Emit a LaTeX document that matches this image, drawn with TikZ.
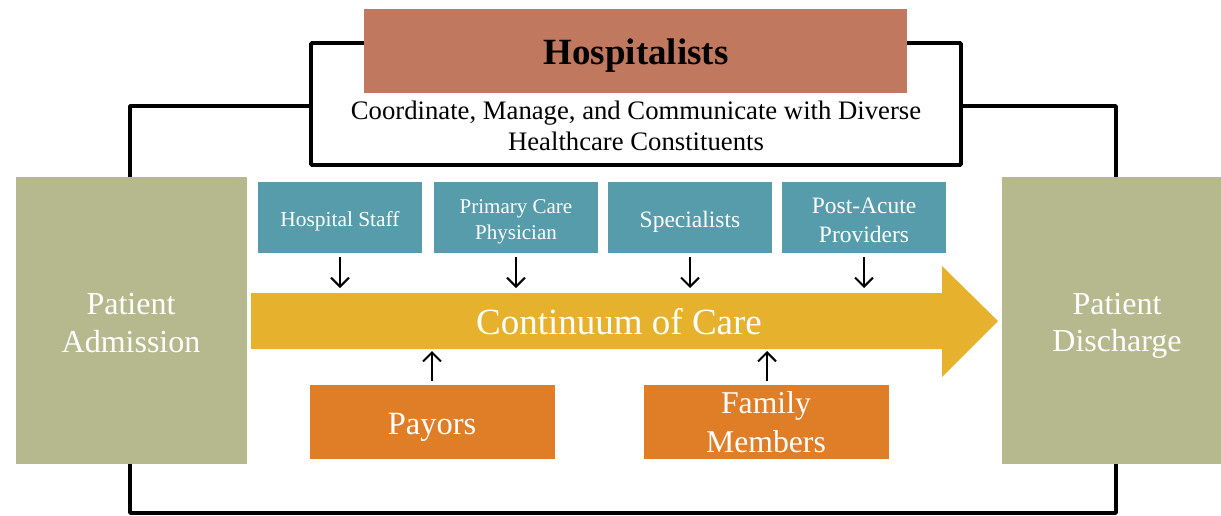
\documentclass[tikz,border=0pt]{standalone}
\usepackage{fontspec}
\setmainfont{LiberationSerif}[Extension=.ttf, UprightFont=*-Regular, BoldFont=*-Bold, ItalicFont=*-Italic, BoldItalicFont=*-BoldItalic]
\usetikzlibrary{arrows.meta}
\definecolor{hosp}{HTML}{C0785F}
\definecolor{teal}{HTML}{579CAA}
\definecolor{tan}{HTML}{B6B98E}
\definecolor{gold}{HTML}{E6B22E}
\definecolor{orng}{HTML}{E07D27}
\tikzset{
  box/.style={anchor=north west, inner sep=0pt, outer sep=0pt},
  lbl/.style={anchor=base, inner sep=0pt, text=white},
  conn/.style={line width=3.6pt, line join=round},
  arr/.style={-{Straight Barb[length=9pt,width=18pt,line width=2pt]}, line width=2pt},
}
\begin{document}
\begin{tikzpicture}[x=1pt,y=-1pt]
\useasboundingbox (0,0) rectangle (1221,515);
% connector frame
\node[box, draw=black, line width=3.6pt, rounded corners=1pt, minimum width=650pt, minimum height=122pt] (coord) at (311,43) {};
\begin{scope}[font=\fontsize{26.7}{32}\selectfont]
\node[lbl, text=black] (c1) at (636,119) {Coordinate, Manage, and Communicate with Diverse};
\node[lbl, text=black] (c2) at (636,150) {Healthcare Constituents};
\end{scope}
\node[box, fill=hosp, minimum width=543pt, minimum height=84pt] (hosp) at (364,9) {};
\node[lbl, font=\fontsize{37}{40}\bfseries\selectfont, text=black] (hosptxt) at (636,64) {Hospitalists};
% side boxes
\node[box, fill=tan, minimum width=231pt, minimum height=287pt] (adm) at (16,177) {};
\node[box, fill=tan, minimum width=219pt, minimum height=287pt] (dis) at (1002,177) {};
\begin{scope}[font=\fontsize{32}{39}\selectfont]
\node[lbl] (a1) at (131,314) {Patient};
\node[lbl] (a2) at (131,352) {Admission};
\node[lbl] (d1) at (1117,314) {Patient};
\node[lbl] (d2) at (1117,351) {Discharge};
\end{scope}
\coordinate (lt) at (130,106);
\coordinate (rt) at (1116,106);
\coordinate (lb) at (130,513);
\coordinate (rb) at (1116,513);
\draw[conn] (coord.west |- lt) -- (lt) -- (adm.north -| lt);
\draw[conn] (coord.east |- rt) -- (rt) -- (dis.north -| rt);
\draw[conn] (adm.south -| lb) -- (lb) -- (rb) -- (dis.south -| rb);
% continuum arrow
\fill[gold] (251,293) -- (942,293) -- (942,266) -- (998,321) -- (942,377) -- (942,349) -- (251,349) -- cycle;
\node[lbl, font=\fontsize{37}{40}\selectfont] (cont) at (619,334) {Continuum of Care};
\coordinate (top1) at (340,288);
\coordinate (top2) at (516,288);
\coordinate (top3) at (690,288);
\coordinate (top4) at (864,288);
% teal boxes
\node[box, fill=teal, minimum width=164pt, minimum height=71pt] (hs) at (258,182) {};
\node[box, fill=teal, minimum width=164pt, minimum height=71pt] (pcp) at (434,182) {};
\node[box, fill=teal, minimum width=164pt, minimum height=71pt] (spec) at (608,182) {};
\node[box, fill=teal, minimum width=164pt, minimum height=71pt] (post) at (782,182) {};
\node[lbl, font=\fontsize{21.4}{26}\selectfont] (hst) at (340,226) {Hospital Staff};
\node[lbl, font=\fontsize{21}{26}\selectfont] (p1) at (516,213) {Primary Care};
\node[lbl, font=\fontsize{21}{26}\selectfont] (p2) at (516,239) {Physician};
\node[lbl, font=\fontsize{23.5}{28}\selectfont] (spt) at (690,227) {Specialists};
\node[lbl, font=\fontsize{23.5}{29}\selectfont] (q1) at (864,213) {Post-Acute};
\node[lbl, font=\fontsize{23.5}{29}\selectfont] (q2) at (864,242) {Providers};
\draw[arr] ([yshift=-4pt]hs.south) -- (top1);
\draw[arr] ([yshift=-4pt]pcp.south) -- (top2);
\draw[arr] ([yshift=-4pt]spec.south) -- (top3);
\draw[arr] ([yshift=-4pt]post.south) -- (top4);
% orange boxes
\node[box, fill=orng, minimum width=245pt, minimum height=74pt] (pay) at (310,385) {};
\node[box, fill=orng, minimum width=245pt, minimum height=74pt] (fam) at (644,385) {};
\node[lbl, font=\fontsize{32.5}{38}\selectfont] (payt) at (432,434) {Payors};
\node[lbl, font=\fontsize{31.7}{37}\selectfont] (f1) at (766,413) {Family};
\node[lbl, font=\fontsize{31.7}{37}\selectfont] (f2) at (766,452) {Members};
\coordinate (bot1) at (432,351);
\coordinate (bot2) at (767,351);
\draw[arr] ([yshift=4pt]pay.north -| bot1) -- (bot1);
\draw[arr] ([yshift=4pt]fam.north -| bot2) -- (bot2);
\end{tikzpicture}
\end{document}
